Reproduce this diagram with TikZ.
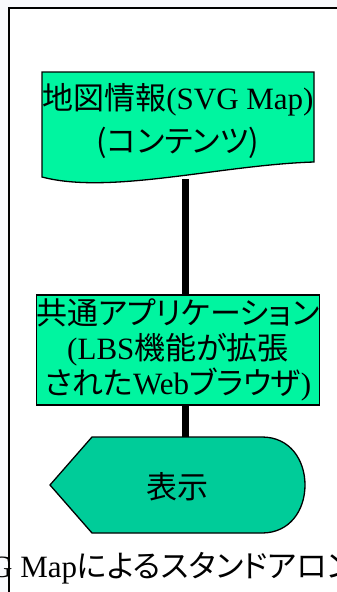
\documentclass[tikz,border=0pt]{standalone}
\usepackage{fontspec}
\setmainfont{Liberation Serif}
\newfontfamily\cjk[RawFeature=+palt]{Noto Sans CJK JP}
\definecolor{docgreen}{RGB}{0,245,160}
\definecolor{dispgreen}{RGB}{0,204,153}
\definecolor{outbg}{RGB}{248,249,252}
\tikzset{
  shapeline/.style={draw=black, line width=1.3pt, line join=miter},
  conn/.style={draw=black, line width=7.5pt},
  bigtext/.style={inner sep=0pt, align=center, font=\fontsize{31}{43}\selectfont},
}
\begin{document}
\begin{tikzpicture}[x=1pt,y=-1pt]
\useasboundingbox (0,0) rectangle (337,592);
\clip (0,0) rectangle (337,592);
\fill[outbg] (0,0) rectangle (337,592);
\fill[white] (9,8) rectangle (340,595);
% document shape
\path[shapeline, fill=docgreen] (42,72) -- (314,72) -- (314,162)
  .. controls (220,165) and (110,195) .. (42,177) -- cycle;
\node[bigtext] (doc) at (178,121.5) {{\cjk 地図情報}(SVG Map)\\{\cjk (コンテンツ)}};
\coordinate (docbot) at (185.5,179);
% process box
\node[shapeline, fill=docgreen, minimum width=272pt, minimum height=110pt, inner sep=0pt,
  font=\fontsize{31}{35}\selectfont, align=center] (proc) at (178,350)
  {{\cjk 共通アプリケーション}\\(LBS{\cjk 機能が拡張}\\{\cjk された}Web{\cjk ブラウザ})};
\coordinate (disptop) at (185.5,440);
\draw[conn] (docbot) -- (docbot |- proc.north);
\draw[conn] (proc.south -| docbot) -- (disptop);
% display shape
\path[shapeline, fill=dispgreen] (50,485) -- (92,437) -- (262,437)
  .. controls (290,437) and (305,460) .. (305,485)
  .. controls (305,510) and (290,533) .. (262,533) -- (92,533) -- cycle;
\node[bigtext] (disp) at (177,487) {\cjk 表示};
% caption
\node[inner sep=0pt, anchor=base west, font=\fontsize{31}{35}\selectfont] (cap) at (-10,577)
  {G Map{\cjk によるスタンドアロン}};
% frame
\draw[line width=2pt] (9,600) -- (9,8) -- (345,8);
\end{tikzpicture}
\end{document}
